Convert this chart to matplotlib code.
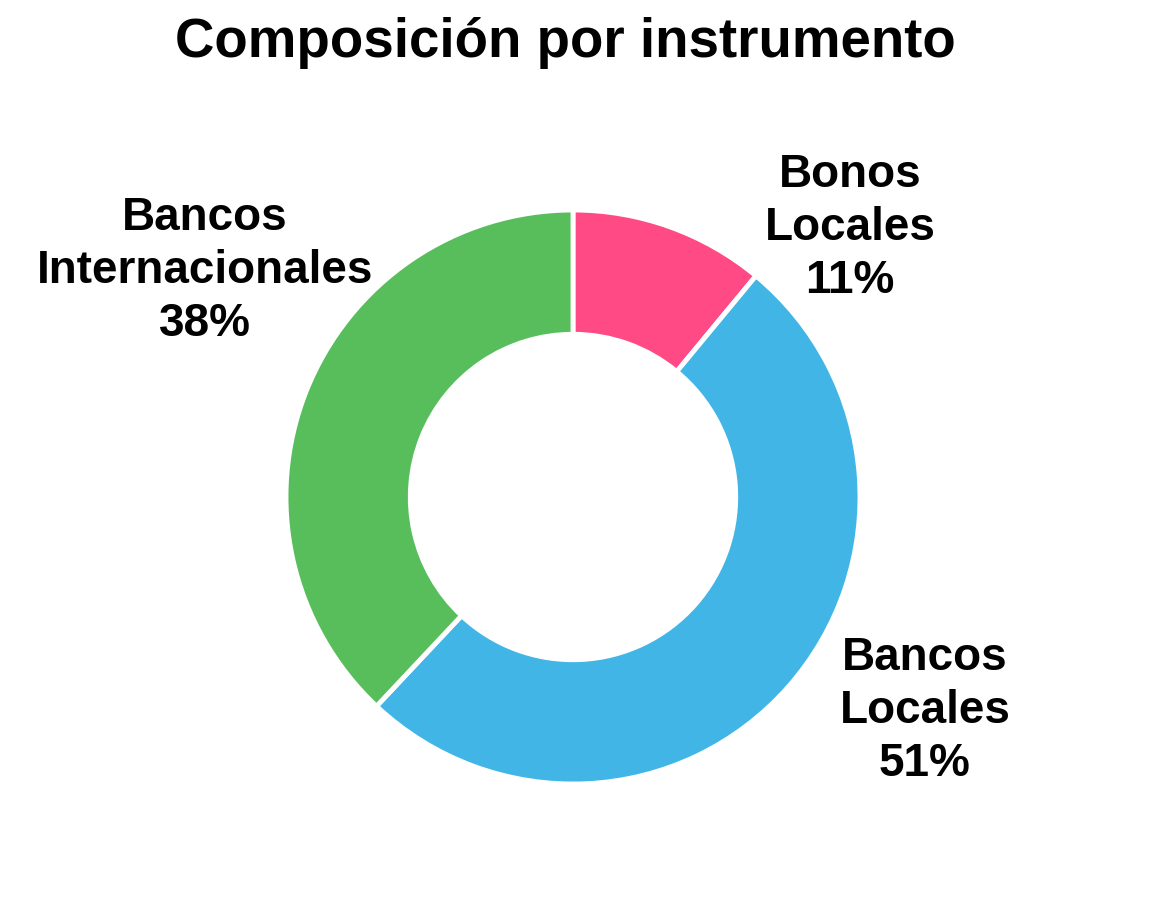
import matplotlib.pyplot as plt

# datos del grafico
categorias = ["Bonos\nLocales", "Bancos\nLocales", "Bancos\nInternacionales"]
porcentajes = [11, 51, 38]
colores = ["#FF4A86", "#41B6E6", "#58BE5C"]

# posiciones de las etiquetas (coordenadas del eje)
pos_etiquetas = [(0.965, 0.937), (1.226, -0.746), (-1.282, 0.787)]

plt.rcParams['font.family'] = ['Liberation Sans', 'DejaVu Sans']

fig = plt.figure(figsize=(11.76, 9.09), dpi=100)
ax = fig.add_axes([0, 0, 1, 1])

ax.pie(porcentajes, colors=colores, startangle=90, counterclock=False,
       wedgeprops=dict(width=0.433, edgecolor="white", linewidth=3.5))

for cat, val, (x, y) in zip(categorias, porcentajes, pos_etiquetas):
    ax.text(x, y, f"{cat}\n{val}%", ha="center", va="center",
            fontsize=33, fontweight="bold", linespacing=1.27)

ax.set_xlim(-573 / 287, (1176 - 573) / 287)
ax.set_ylim(-(909 - 497) / 287, 497 / 287)

fig.text(0.481, 0.953, "Composición por instrumento", ha="center", va="center",
         fontsize=39.3, fontweight="bold")

fig.savefig("out.png", dpi=100)
